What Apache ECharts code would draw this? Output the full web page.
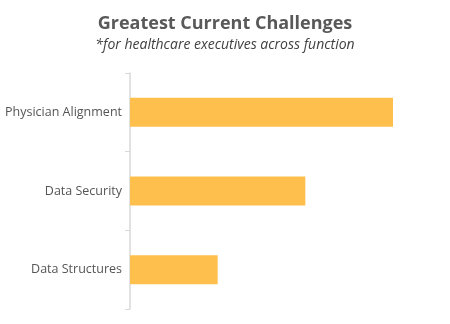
<!DOCTYPE html>
<html>
<head>
<meta charset="utf-8">
<script src="https://cdn.jsdelivr.net/npm/echarts@6/dist/echarts.min.js"></script>
<style>
html,body{margin:0;padding:0;background:#fff;}
#chart{width:450px;height:324px;}
</style>
</head>
<body>
<div id="chart"></div>
<script>
// Challenges, listed top to bottom, with their relative scores
const categories = ['Physician Alignment', 'Data Security', 'Data Structures'];
const scores = [3, 2, 1];

const chart = echarts.init(document.getElementById('chart'));
chart.setOption({
  animation: false,
  title: {
    text: 'Greatest Current Challenges',
    subtext: '*for healthcare executives across function',
    left: 'center',
    top: 10,
    itemGap: 5,
    textStyle: { fontFamily: 'Open Sans', fontWeight: 'bold', fontSize: 18, color: '#595959' },
    subtextStyle: { fontFamily: 'Open Sans', fontStyle: 'italic', fontSize: 14, color: '#404040' }
  },
  grid: { left: 130, right: 57, top: 73, bottom: 15 },
  xAxis: {
    type: 'value',
    min: 0,
    max: 3,
    show: false
  },
  yAxis: {
    type: 'category',
    data: categories,
    inverse: true,
    axisLine: { show: true, lineStyle: { color: '#d9d9d9', width: 1.5 } },
    axisTick: { show: true, length: 5, lineStyle: { color: '#d9d9d9' } },
    axisLabel: { fontFamily: 'Open Sans', fontSize: 12.5, color: '#555555', margin: 8 }
  },
  series: [{
    type: 'bar',
    data: scores,
    barWidth: 29,
    itemStyle: { color: '#FFBF4C' }
  }]
});
</script>
</body>
</html>
